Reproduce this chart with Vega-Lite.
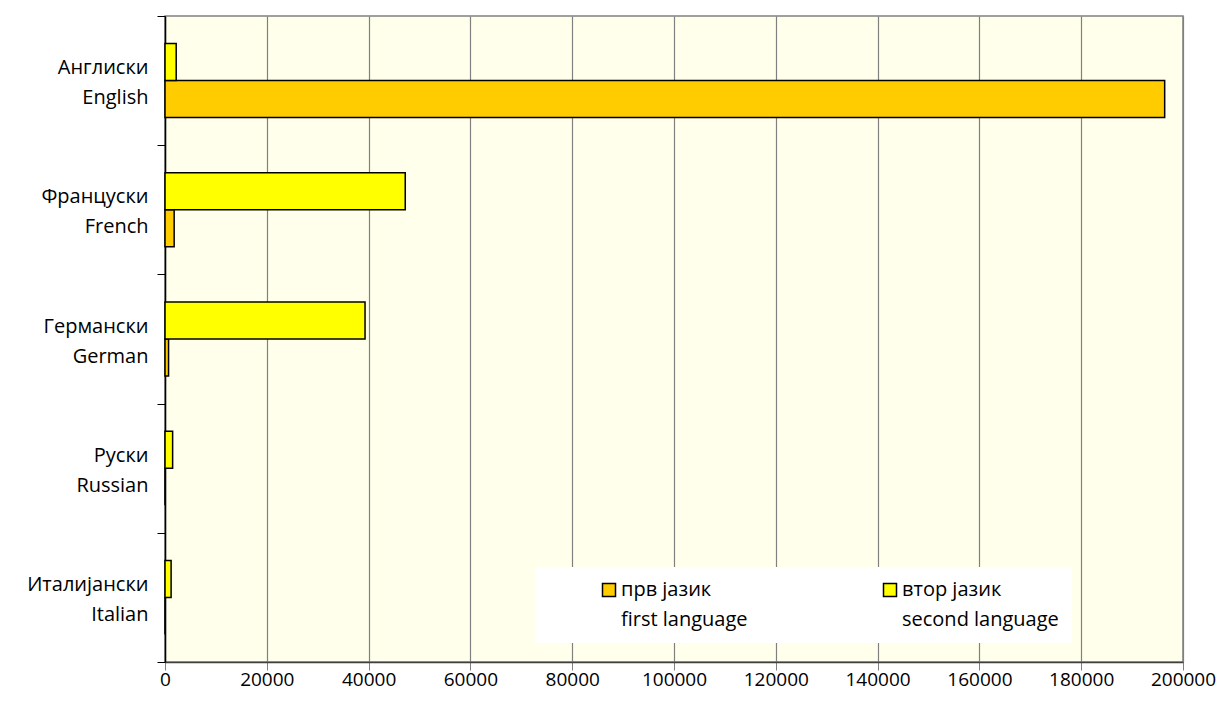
{
  "$schema": "https://vega.github.io/schema/vega-lite/v6.json",
  "autosize": {"type": "none"},
  "padding": {"left": 165, "top": 16, "right": 41, "bottom": 49},
  "width": 1018,
  "height": 646,
  "background": "white",
  "config": {
    "view": {"fill": "#FFFFEC", "stroke": "#808080", "strokeWidth": 1.5},
    "font": "Open Sans",
    "style": {"guide-label": {"lineHeight": 30}}
  },
  "data": {
    "values": [
      {"lang": "Англиски|English", "type": "прв јазик|first language", "value": 196400},
      {"lang": "Англиски|English", "type": "втор јазик|second language", "value": 2200},
      {"lang": "Француски|French", "type": "прв јазик|first language", "value": 1800},
      {"lang": "Француски|French", "type": "втор јазик|second language", "value": 47200},
      {"lang": "Германски|German", "type": "прв јазик|first language", "value": 700},
      {"lang": "Германски|German", "type": "втор јазик|second language", "value": 39300},
      {"lang": "Руски|Russian", "type": "прв јазик|first language", "value": 0},
      {"lang": "Руски|Russian", "type": "втор јазик|second language", "value": 1500},
      {"lang": "Италијански|Italian", "type": "прв јазик|first language", "value": 0},
      {"lang": "Италијански|Italian", "type": "втор јазик|second language", "value": 1200}
    ]
  },
  "mark": {"type": "bar", "stroke": "black", "strokeWidth": 1.5},
  "encoding": {
    "y": {
      "field": "lang",
      "type": "nominal",
      "sort": ["Англиски|English", "Француски|French", "Германски|German", "Руски|Russian", "Италијански|Italian"],
      "scale": {"paddingInner": 0, "paddingOuter": 0},
      "axis": {
        "title": null,
        "labelExpr": "split(datum.label, '|')",
        "labelAlign": "right",
        "labelBaseline": "middle",
        "labelPadding": 9,
        "labelOffset": -13,
        "labelFontSize": 20,
        "labelLineHeight": 30,
        "labelColor": "black",
        "labelLimit": 300,
        "tickBand": "extent",
        "tickSize": 8,
        "tickColor": "black",
        "tickWidth": 1,
        "domainColor": "black",
        "domainWidth": 1.5,
        "grid": false
      }
    },
    "yOffset": {
      "field": "type",
      "type": "nominal",
      "sort": ["втор јазик|second language", "прв јазик|first language"],
      "scale": {"paddingInner": 0, "paddingOuter": 0.747}
    },
    "x": {
      "field": "value",
      "type": "quantitative",
      "scale": {"domain": [0, 200000], "nice": false},
      "axis": {
        "title": null,
        "values": [0, 20000, 40000, 60000, 80000, 100000, 120000, 140000, 160000, 180000, 200000],
        "format": "d",
        "labelFontSize": 19,
        "labelColor": "black",
        "labelPadding": 0,
        "labelFlush": false,
        "labelOverlap": false,
        "tickSize": 8,
        "tickColor": "#808080",
        "domainColor": "#404040",
        "domainWidth": 1.5,
        "grid": true,
        "gridColor": "#808080",
        "gridWidth": 1.2,
        "gridOpacity": 1
      }
    },
    "color": {
      "field": "type",
      "type": "nominal",
      "sort": ["прв јазик|first language", "втор јазик|second language"],
      "scale": {"range": ["#FFCC00", "#FFFF00"]},
      "legend": {
        "title": null,
        "orient": "none",
        "legendX": 370,
        "legendY": 551,
        "direction": "horizontal",
        "columns": 2,
        "fillColor": "white",
        "padding": 13,
        "symbolType": "square",
        "symbolSize": 169,
        "symbolStrokeColor": "black",
        "symbolStrokeWidth": 1.5,
        "symbolOpacity": 1,
        "symbolOffset": 51,
        "labelOffset": 2,
        "labelExpr": "split(datum.label, '|')",
        "labelFontSize": 20,
        "labelBaseline": "middle",
        "labelColor": "black",
        "labelLimit": 400,
        "columnPadding": 81
      }
    }
  }
}
